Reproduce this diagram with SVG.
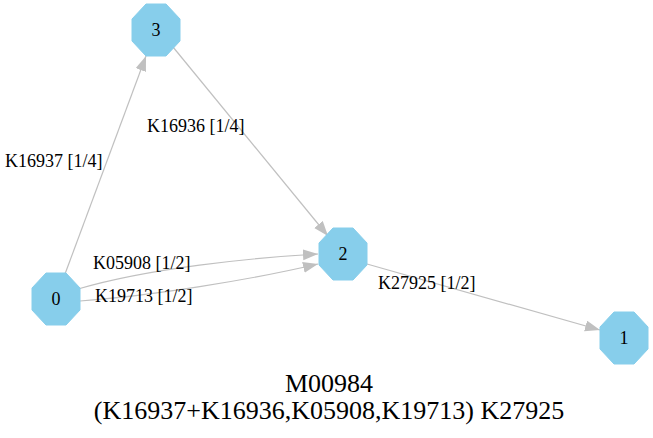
<svg xmlns="http://www.w3.org/2000/svg" width="653" height="438" viewBox="0 0 653 438">
  <style>
    .node polygon { fill: #87ceeb; stroke: #87ceeb; stroke-width: 1; }
    .node text { font-family: "Liberation Serif", "Times New Roman", serif; font-size: 18px; text-anchor: middle; fill: #000; }
    .edge { fill: none; stroke: #c0c0c0; stroke-width: 1.2; }
    .elabel { font-family: "Liberation Serif", "Times New Roman", serif; font-size: 18px; fill: #000; }
    .title { font-family: "Liberation Serif", "Times New Roman", serif; font-size: 26px; text-anchor: middle; fill: #000; }
  </style>
  <defs>
    <marker id="arrow" markerWidth="16" markerHeight="12" refX="15" refY="5.5" orient="auto" markerUnits="userSpaceOnUse">
      <polygon points="0,0 15,5.5 0,11" fill="#c0c0c0"/>
    </marker>
  </defs>
  <rect width="653" height="438" fill="#ffffff"/>

  <g id="edges">
    <path class="edge" d="M65,274 L146,56" marker-end="url(#arrow)"/>
    <path class="edge" d="M173,47 L328,236" marker-end="url(#arrow)"/>
    <path class="edge" d="M78,289 C150,268 250,258 318,254" marker-end="url(#arrow)"/>
    <path class="edge" d="M80,301 C150,296 250,280 318,264" marker-end="url(#arrow)"/>
    <path class="edge" d="M367,264 L600,330" marker-end="url(#arrow)"/>
    <text class="elabel" x="5" y="167">K16937 [1/4]</text>
    <text class="elabel" x="147" y="132">K16936 [1/4]</text>
    <text class="elabel" x="93" y="269">K05908 [1/2]</text>
    <text class="elabel" x="95" y="302">K19713 [1/2]</text>
    <text class="elabel" x="378" y="289">K27925 [1/2]</text>
  </g>

  <g id="node0" class="node" transform="translate(56,299)">
    <polygon points="-10,-26 10,-26 24,-11 24,11 10,26 -10,26 -24,11 -24,-11"/>
    <text x="0" y="6">0</text>
  </g>
  <g id="node3" class="node" transform="translate(156,30)">
    <polygon points="-10,-26 10,-26 24,-11 24,11 10,26 -10,26 -24,11 -24,-11"/>
    <text x="0" y="6">3</text>
  </g>
  <g id="node2" class="node" transform="translate(343,254)">
    <polygon points="-10,-26 10,-26 24,-11 24,11 10,26 -10,26 -24,11 -24,-11"/>
    <text x="0" y="6">2</text>
  </g>
  <g id="node1" class="node" transform="translate(624,338)">
    <polygon points="-10,-26 10,-26 24,-11 24,11 10,26 -10,26 -24,11 -24,-11"/>
    <text x="0" y="6">1</text>
  </g>

  <g id="title">
    <text class="title" x="329" y="392">M00984</text>
    <text class="title" x="329" y="419">(K16937+K16936,K05908,K19713) K27925</text>
  </g>
</svg>
